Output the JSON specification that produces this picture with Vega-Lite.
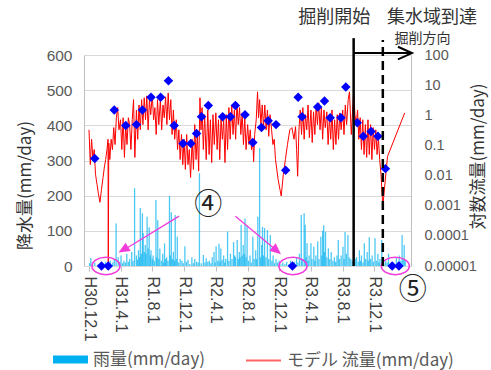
{
  "$schema": "https://vega.github.io/schema/vega-lite/v6.json",
  "width": 327,
  "height": 211,
  "autosize": {"type": "none"},
  "padding": {"left": 84, "top": 55, "right": 80, "bottom": 104},
  "background": "white",
  "config": {
    "font": "Noto Sans CJK JP",
    "view": {"stroke": null},
    "axis": {"titleFontWeight": "normal", "labelFont": "Liberation Sans"}
  },
  "datasets": {
    "rain": [
      {"date":"2018-12-03","mm":8},{"date":"2018-12-08","mm":23},{"date":"2018-12-15","mm":5},{"date":"2018-12-23","mm":10},
      {"date":"2019-01-05","mm":4},{"date":"2019-01-15","mm":8},{"date":"2019-01-26","mm":6},{"date":"2019-02-02","mm":12},
      {"date":"2019-02-10","mm":5},{"date":"2019-02-21","mm":15},{"date":"2019-03-02","mm":10},{"date":"2019-03-08","mm":20},
      {"date":"2019-03-15","mm":121},{"date":"2019-03-23","mm":25},{"date":"2019-03-29","mm":12},{"date":"2019-04-03","mm":30},
      {"date":"2019-04-09","mm":8},{"date":"2019-04-14","mm":15},{"date":"2019-04-20","mm":10},{"date":"2019-04-25","mm":35},
      {"date":"2019-05-01","mm":12},{"date":"2019-05-06","mm":20},{"date":"2019-05-14","mm":40},{"date":"2019-05-19","mm":15},
      {"date":"2019-05-25","mm":221},{"date":"2019-06-01","mm":30},{"date":"2019-06-05","mm":18},{"date":"2019-06-09","mm":45},
      {"date":"2019-06-13","mm":25},{"date":"2019-06-16","mm":165},{"date":"2019-06-20","mm":35},{"date":"2019-06-24","mm":150},
      {"date":"2019-06-27","mm":94},{"date":"2019-07-01","mm":40},{"date":"2019-07-05","mm":60},{"date":"2019-07-08","mm":35},
      {"date":"2019-07-12","mm":140},{"date":"2019-07-16","mm":50},{"date":"2019-07-20","mm":110},{"date":"2019-07-24","mm":30},
      {"date":"2019-07-27","mm":45},{"date":"2019-08-01","mm":20},{"date":"2019-08-04","mm":30},{"date":"2019-08-09","mm":15},
      {"date":"2019-08-15","mm":188},{"date":"2019-08-18","mm":25},{"date":"2019-08-22","mm":130},{"date":"2019-08-26","mm":20},
      {"date":"2019-08-30","mm":50},{"date":"2019-09-05","mm":15},{"date":"2019-09-10","mm":35},{"date":"2019-09-14","mm":10},
      {"date":"2019-09-17","mm":64},{"date":"2019-09-21","mm":20},{"date":"2019-09-25","mm":25},{"date":"2019-09-30","mm":15},
      {"date":"2019-10-06","mm":199},{"date":"2019-10-09","mm":30},{"date":"2019-10-13","mm":153},{"date":"2019-10-17","mm":20},
      {"date":"2019-10-21","mm":40},{"date":"2019-10-25","mm":15},{"date":"2019-10-28","mm":145},{"date":"2019-11-01","mm":20},
      {"date":"2019-11-05","mm":83},{"date":"2019-11-10","mm":10},{"date":"2019-11-16","mm":20},{"date":"2019-11-23","mm":15},
      {"date":"2019-11-28","mm":8},{"date":"2019-12-04","mm":56},{"date":"2019-12-10","mm":12},{"date":"2019-12-16","mm":18},
      {"date":"2019-12-23","mm":6},{"date":"2019-12-31","mm":25},{"date":"2020-01-06","mm":8},{"date":"2020-01-11","mm":20},
      {"date":"2020-01-18","mm":12},{"date":"2020-01-24","mm":10},{"date":"2020-01-29","mm":264},{"date":"2020-02-05","mm":8},
      {"date":"2020-02-13","mm":31},{"date":"2020-02-19","mm":10},{"date":"2020-02-24","mm":22},{"date":"2020-03-01","mm":12},
      {"date":"2020-03-07","mm":15},{"date":"2020-03-13","mm":8},{"date":"2020-03-18","mm":25},{"date":"2020-03-25","mm":40},
      {"date":"2020-03-29","mm":10},{"date":"2020-04-02","mm":56},{"date":"2020-04-08","mm":15},{"date":"2020-04-13","mm":63},
      {"date":"2020-04-17","mm":12},{"date":"2020-04-20","mm":50},{"date":"2020-04-25","mm":18},{"date":"2020-05-01","mm":30},
      {"date":"2020-05-05","mm":10},{"date":"2020-05-09","mm":20},{"date":"2020-05-16","mm":98},{"date":"2020-05-21","mm":15},
      {"date":"2020-05-27","mm":35},{"date":"2020-06-02","mm":20},{"date":"2020-06-08","mm":68},{"date":"2020-06-12","mm":30},
      {"date":"2020-06-15","mm":25},{"date":"2020-06-22","mm":74},{"date":"2020-06-26","mm":20},{"date":"2020-06-30","mm":40},
      {"date":"2020-07-03","mm":25},{"date":"2020-07-07","mm":117},{"date":"2020-07-11","mm":30},{"date":"2020-07-15","mm":60},
      {"date":"2020-07-19","mm":35},{"date":"2020-07-22","mm":135},{"date":"2020-07-26","mm":25},{"date":"2020-07-30","mm":115},
      {"date":"2020-08-04","mm":15},{"date":"2020-08-10","mm":30},{"date":"2020-08-15","mm":10},{"date":"2020-08-21","mm":83},
      {"date":"2020-08-26","mm":20},{"date":"2020-09-01","mm":45},{"date":"2020-09-05","mm":20},{"date":"2020-09-09","mm":140},
      {"date":"2020-09-16","mm":335},{"date":"2020-09-20","mm":25},{"date":"2020-09-24","mm":60},{"date":"2020-09-27","mm":111},
      {"date":"2020-10-01","mm":30},{"date":"2020-10-05","mm":108},{"date":"2020-10-10","mm":25},{"date":"2020-10-16","mm":102},
      {"date":"2020-10-21","mm":20},{"date":"2020-10-27","mm":88},{"date":"2020-11-02","mm":15},{"date":"2020-11-07","mm":30},
      {"date":"2020-11-12","mm":8},{"date":"2020-11-18","mm":20},{"date":"2020-11-24","mm":10},{"date":"2020-11-30","mm":15},
      {"date":"2020-12-07","mm":5},{"date":"2020-12-14","mm":10},{"date":"2020-12-22","mm":6},{"date":"2020-12-29","mm":12},
      {"date":"2021-01-06","mm":5},{"date":"2021-01-13","mm":15},{"date":"2021-01-20","mm":8},{"date":"2021-01-28","mm":12},
      {"date":"2021-02-05","mm":25},{"date":"2021-02-10","mm":10},{"date":"2021-02-16","mm":35},{"date":"2021-02-23","mm":145},
      {"date":"2021-02-27","mm":20},{"date":"2021-03-06","mm":150},{"date":"2021-03-10","mm":117},{"date":"2021-03-14","mm":25},
      {"date":"2021-03-17","mm":65},{"date":"2021-03-21","mm":15},{"date":"2021-03-25","mm":30},{"date":"2021-04-01","mm":65},
      {"date":"2021-04-05","mm":20},{"date":"2021-04-12","mm":55},{"date":"2021-04-16","mm":15},{"date":"2021-04-20","mm":30},
      {"date":"2021-04-27","mm":70},{"date":"2021-05-02","mm":20},{"date":"2021-05-09","mm":83},{"date":"2021-05-13","mm":30},
      {"date":"2021-05-16","mm":100},{"date":"2021-05-20","mm":116},{"date":"2021-05-23","mm":40},{"date":"2021-05-27","mm":97},
      {"date":"2021-06-01","mm":25},{"date":"2021-06-07","mm":50},{"date":"2021-06-12","mm":20},{"date":"2021-06-18","mm":40},
      {"date":"2021-06-24","mm":15},{"date":"2021-06-30","mm":25},{"date":"2021-07-05","mm":12},{"date":"2021-07-10","mm":30},
      {"date":"2021-07-15","mm":74},{"date":"2021-07-20","mm":20},{"date":"2021-07-26","mm":30},{"date":"2021-08-02","mm":55},
      {"date":"2021-08-06","mm":20},{"date":"2021-08-10","mm":97},{"date":"2021-08-15","mm":35},{"date":"2021-08-21","mm":88},
      {"date":"2021-08-26","mm":25},{"date":"2021-09-01","mm":20},{"date":"2021-09-07","mm":15},{"date":"2021-09-12","mm":366},
      {"date":"2021-09-18","mm":20},{"date":"2021-09-23","mm":25},{"date":"2021-09-29","mm":12},{"date":"2021-10-04","mm":45},
      {"date":"2021-10-08","mm":15},{"date":"2021-10-12","mm":30},{"date":"2021-10-18","mm":10},{"date":"2021-10-23","mm":65},
      {"date":"2021-10-28","mm":20},{"date":"2021-11-03","mm":40},{"date":"2021-11-07","mm":15},{"date":"2021-11-11","mm":82},
      {"date":"2021-11-16","mm":20},{"date":"2021-11-22","mm":30},{"date":"2021-11-27","mm":12},{"date":"2021-12-03","mm":79},
      {"date":"2021-12-08","mm":15},{"date":"2021-12-14","mm":35},{"date":"2021-12-18","mm":10},{"date":"2021-12-22","mm":20},
      {"date":"2021-12-29","mm":75},{"date":"2022-01-06","mm":8},{"date":"2022-01-13","mm":15},{"date":"2022-01-19","mm":10},
      {"date":"2022-01-24","mm":35},{"date":"2022-01-31","mm":6},{"date":"2022-02-08","mm":10},{"date":"2022-02-15","mm":5},
      {"date":"2022-02-23","mm":25},{"date":"2022-03-01","mm":12},{"date":"2022-03-06","mm":30},{"date":"2022-03-12","mm":15},
      {"date":"2022-03-17","mm":88},{"date":"2022-03-21","mm":20},{"date":"2022-03-25","mm":60},{"date":"2022-03-29","mm":15}
    ],
    "flow": [
      {"date":"2018-12-01","flow":0.33},{"date":"2018-12-06","flow":0.023},{"date":"2018-12-11","flow":0.16},{"date":"2018-12-16","flow":0.034},
      {"date":"2018-12-21","flow":0.073},{"date":"2018-12-26","flow":0.011},{"date":"2019-01-01","flow":0.005},{"date":"2019-01-06","flow":0.0025},
      {"date":"2019-01-12","flow":0.0013},{"date":"2019-01-18","flow":0.0035},{"date":"2019-01-24","flow":0.0087},{"date":"2019-01-29","flow":0.019},
      {"date":"2019-02-03","flow":0.034},{"date":"2019-02-08","flow":0.073},{"date":"2019-02-12","flow":0.16},{"date":"2019-02-13","flow":0.00001},
      {"date":"2019-02-15","flow":0.12},{"date":"2019-02-19","flow":0.034},{"date":"2019-02-24","flow":0.16},
      {"date":"2019-03-01","flow":0.073},{"date":"2019-03-06","flow":0.39},{"date":"2019-03-11","flow":0.107},{"date":"2019-03-16","flow":0.83},
      {"date":"2019-03-21","flow":1.8},{"date":"2019-03-26","flow":0.33},
      {"date":"2019-04-01","flow":0.71},{"date":"2019-04-06","flow":0.073},{"date":"2019-04-11","flow":0.83},{"date":"2019-04-16","flow":0.04},
      {"date":"2019-04-21","flow":0.49},{"date":"2019-04-26","flow":0.107},
      {"date":"2019-05-01","flow":0.83},{"date":"2019-05-06","flow":0.49},{"date":"2019-05-11","flow":0.073},{"date":"2019-05-16","flow":0.71},
      {"date":"2019-05-21","flow":3.3},{"date":"2019-05-26","flow":0.04},
      {"date":"2019-06-01","flow":1.5},{"date":"2019-06-06","flow":0.16},{"date":"2019-06-11","flow":2.2},{"date":"2019-06-16","flow":0.33},
      {"date":"2019-06-21","flow":3.3},{"date":"2019-06-26","flow":0.49},
      {"date":"2019-07-01","flow":3.8},{"date":"2019-07-06","flow":0.71},{"date":"2019-07-11","flow":4.4},{"date":"2019-07-16","flow":0.33},
      {"date":"2019-07-21","flow":3.3},{"date":"2019-07-26","flow":1.05},
      {"date":"2019-08-01","flow":4.8},{"date":"2019-08-06","flow":0.71},{"date":"2019-08-11","flow":1.8},{"date":"2019-08-16","flow":0.23},
      {"date":"2019-08-21","flow":3.3},{"date":"2019-08-26","flow":0.49},
      {"date":"2019-09-01","flow":3.3},{"date":"2019-09-06","flow":0.33},{"date":"2019-09-11","flow":2.2},{"date":"2019-09-16","flow":0.83},
      {"date":"2019-09-21","flow":4.1},{"date":"2019-09-26","flow":0.49},
      {"date":"2019-10-01","flow":5.5},{"date":"2019-10-06","flow":0.71},{"date":"2019-10-11","flow":3.3},{"date":"2019-10-16","flow":0.23},
      {"date":"2019-10-21","flow":1.5},{"date":"2019-10-26","flow":0.16},
      {"date":"2019-11-01","flow":0.71},{"date":"2019-11-06","flow":0.073},{"date":"2019-11-11","flow":0.33},{"date":"2019-11-16","flow":0.034},
      {"date":"2019-11-21","flow":0.23},{"date":"2019-11-26","flow":0.023},
      {"date":"2019-12-01","flow":0.16},{"date":"2019-12-06","flow":0.016},{"date":"2019-12-11","flow":0.23},{"date":"2019-12-16","flow":0.023},
      {"date":"2019-12-21","flow":0.073},{"date":"2019-12-26","flow":0.0087},
      {"date":"2020-01-01","flow":0.16},{"date":"2020-01-06","flow":0.016},{"date":"2020-01-11","flow":0.49},{"date":"2020-01-16","flow":0.034},
      {"date":"2020-01-21","flow":0.23},{"date":"2020-01-26","flow":0.014},{"date":"2020-01-31","flow":3.8},
      {"date":"2020-02-04","flow":0.33},{"date":"2020-02-08","flow":1.8},{"date":"2020-02-13","flow":0.073},{"date":"2020-02-18","flow":1.05},
      {"date":"2020-02-24","flow":0.034},
      {"date":"2020-03-01","flow":1.5},{"date":"2020-03-06","flow":0.05},{"date":"2020-03-11","flow":0.71},{"date":"2020-03-16","flow":0.027},
      {"date":"2020-03-21","flow":1.05},{"date":"2020-03-26","flow":0.107},
      {"date":"2020-04-01","flow":1.2},{"date":"2020-04-06","flow":0.073},{"date":"2020-04-11","flow":0.71},{"date":"2020-04-16","flow":0.034},
      {"date":"2020-04-21","flow":0.83},{"date":"2020-04-26","flow":0.16},
      {"date":"2020-05-01","flow":0.71},{"date":"2020-05-06","flow":0.027},{"date":"2020-05-11","flow":1.05},{"date":"2020-05-16","flow":0.073},
      {"date":"2020-05-21","flow":1.8},{"date":"2020-05-26","flow":0.16},
      {"date":"2020-06-01","flow":2.2},{"date":"2020-06-06","flow":0.23},{"date":"2020-06-11","flow":1.5},{"date":"2020-06-16","flow":0.16},
      {"date":"2020-06-21","flow":2.6},{"date":"2020-06-26","flow":0.49},
      {"date":"2020-07-01","flow":1.8},{"date":"2020-07-06","flow":0.23},{"date":"2020-07-11","flow":1.2},{"date":"2020-07-16","flow":0.107},
      {"date":"2020-07-21","flow":0.83},{"date":"2020-07-26","flow":0.073},
      {"date":"2020-08-01","flow":0.49},{"date":"2020-08-06","flow":0.107},{"date":"2020-08-11","flow":0.33},{"date":"2020-08-16","flow":0.073},
      {"date":"2020-08-21","flow":0.16},{"date":"2020-08-24","flow":0.029},{"date":"2020-08-28","flow":0.23},
      {"date":"2020-09-03","flow":0.71},{"date":"2020-09-08","flow":6.0},{"date":"2020-09-12","flow":0.83},{"date":"2020-09-16","flow":3.3},
      {"date":"2020-09-21","flow":0.49},{"date":"2020-09-26","flow":2.2},
      {"date":"2020-10-01","flow":0.39},{"date":"2020-10-06","flow":2.2},{"date":"2020-10-11","flow":0.33},{"date":"2020-10-16","flow":1.5},
      {"date":"2020-10-21","flow":0.2},{"date":"2020-10-26","flow":1.05},
      {"date":"2020-11-01","flow":0.33},{"date":"2020-11-06","flow":0.107},{"date":"2020-11-11","flow":0.16},{"date":"2020-11-16","flow":0.034},
      {"date":"2020-11-21","flow":0.016},{"date":"2020-11-26","flow":0.0075},
      {"date":"2020-12-03","flow":0.0035},{"date":"2020-12-08","flow":0.0021},{"date":"2020-12-16","flow":0.011},{"date":"2020-12-24","flow":0.034},
      {"date":"2021-01-01","flow":0.107},{"date":"2021-01-10","flow":0.33},{"date":"2021-01-18","flow":0.39},{"date":"2021-01-26","flow":0.16},
      {"date":"2021-02-01","flow":0.42},{"date":"2021-02-05","flow":0.073},{"date":"2021-02-09","flow":0.0095},{"date":"2021-02-14","flow":0.33},
      {"date":"2021-02-19","flow":1.5},{"date":"2021-02-24","flow":0.23},
      {"date":"2021-03-01","flow":1.8},{"date":"2021-03-06","flow":0.16},{"date":"2021-03-11","flow":1.05},{"date":"2021-03-16","flow":0.33},
      {"date":"2021-03-21","flow":2.2},{"date":"2021-03-26","flow":0.18},
      {"date":"2021-04-01","flow":1.5},{"date":"2021-04-06","flow":0.125},{"date":"2021-04-11","flow":1.3},{"date":"2021-04-16","flow":0.23},
      {"date":"2021-04-21","flow":2.2},{"date":"2021-04-26","flow":0.49},
      {"date":"2021-05-01","flow":2.6},{"date":"2021-05-06","flow":0.33},{"date":"2021-05-11","flow":1.8},{"date":"2021-05-16","flow":0.16},
      {"date":"2021-05-21","flow":1.5},{"date":"2021-05-26","flow":0.39},
      {"date":"2021-06-01","flow":1.3},{"date":"2021-06-06","flow":0.107},{"date":"2021-06-11","flow":0.83},{"date":"2021-06-16","flow":0.16},
      {"date":"2021-06-21","flow":1.5},{"date":"2021-06-26","flow":0.073},
      {"date":"2021-07-01","flow":0.71},{"date":"2021-07-06","flow":0.107},{"date":"2021-07-11","flow":1.05},{"date":"2021-07-16","flow":0.16},
      {"date":"2021-07-21","flow":1.2},{"date":"2021-07-26","flow":0.33},
      {"date":"2021-08-01","flow":1.5},{"date":"2021-08-06","flow":0.23},{"date":"2021-08-11","flow":2.2},{"date":"2021-08-16","flow":0.49},
      {"date":"2021-08-22","flow":3.3},{"date":"2021-08-27","flow":6.0},
      {"date":"2021-09-03","flow":0.23},{"date":"2021-09-08","flow":1.5},{"date":"2021-09-12","flow":6.0},{"date":"2021-09-17","flow":1.05},
      {"date":"2021-09-22","flow":0.49},{"date":"2021-09-27","flow":1.5},
      {"date":"2021-10-02","flow":0.16},{"date":"2021-10-07","flow":0.83},{"date":"2021-10-12","flow":0.073},{"date":"2021-10-17","flow":0.71},
      {"date":"2021-10-22","flow":0.05},{"date":"2021-10-27","flow":0.49},
      {"date":"2021-11-01","flow":0.04},{"date":"2021-11-06","flow":0.71},{"date":"2021-11-11","flow":0.05},{"date":"2021-11-16","flow":0.49},
      {"date":"2021-11-21","flow":0.034},{"date":"2021-11-26","flow":0.39},
      {"date":"2021-12-01","flow":0.073},{"date":"2021-12-06","flow":0.33},{"date":"2021-12-11","flow":0.05},{"date":"2021-12-16","flow":0.18},
      {"date":"2021-12-21","flow":0.034},{"date":"2021-12-26","flow":0.011},
      {"date":"2022-01-02","flow":0.00096},{"date":"2022-01-20","flow":0.043},{"date":"2022-03-27","flow":1.2}
    ],
    "obs": [
      {"date":"2018-12-23","obs":0.037},{"date":"2019-01-18","obs":0.00001},{"date":"2019-02-13","obs":0.00001},
      {"date":"2019-03-08","obs":1.5},{"date":"2019-04-21","obs":0.46},{"date":"2019-06-01","obs":0.49},
      {"date":"2019-06-24","obs":1.5},{"date":"2019-07-27","obs":4.0},{"date":"2019-09-02","obs":4.0},
      {"date":"2019-10-02","obs":13.9},{"date":"2019-10-24","obs":0.46},{"date":"2019-11-27","obs":0.115},
      {"date":"2019-12-27","obs":0.115},{"date":"2020-01-18","obs":0.25},{"date":"2020-02-06","obs":0.9},
      {"date":"2020-03-03","obs":2.1},{"date":"2020-04-27","obs":0.9},{"date":"2020-05-27","obs":0.9},
      {"date":"2020-06-15","obs":2.1},{"date":"2020-07-22","obs":1.05},{"date":"2020-08-21","obs":0.126},
      {"date":"2020-09-23","obs":0.39},{"date":"2020-10-19","obs":0.66},{"date":"2020-11-18","obs":0.49},
      {"date":"2020-12-25","obs":0.015},{"date":"2021-01-20","obs":0.00001},{"date":"2021-02-11","obs":4.0},
      {"date":"2021-02-26","obs":0.9},{"date":"2021-04-27","obs":1.9},{"date":"2021-05-23","obs":3.0},
      {"date":"2021-06-14","obs":0.83},{"date":"2021-07-25","obs":0.83},{"date":"2021-08-13","obs":8.7},
      {"date":"2021-09-26","obs":0.57},{"date":"2021-10-19","obs":0.2},{"date":"2021-11-18","obs":0.29},
      {"date":"2021-12-14","obs":0.2},{"date":"2022-01-12","obs":0.017},{"date":"2022-02-07","obs":0.00001},
      {"date":"2022-03-05","obs":0.00001}
    ]
  },
  "layer": [
    {
      "data": {"name": "rain"},
      "mark": {"type": "bar", "size": 1.3, "opacity": 0.7},
      "encoding": {
        "x": {
          "field": "date", "type": "temporal",
          "scale": {"domain": [{"year": 2018, "month": 12, "date": 1}, {"year": 2022, "month": 4, "date": 1}]},
          "axis": {
            "values": [
              {"year": 2018, "month": 12, "date": 1}, {"year": 2019, "month": 4, "date": 1},
              {"year": 2019, "month": 8, "date": 1}, {"year": 2019, "month": 12, "date": 1},
              {"year": 2020, "month": 4, "date": 1}, {"year": 2020, "month": 8, "date": 1},
              {"year": 2020, "month": 12, "date": 1}, {"year": 2021, "month": 4, "date": 1},
              {"year": 2021, "month": 8, "date": 1}, {"year": 2021, "month": 12, "date": 1}
            ],
            "tickCount": 40,
            "labelExpr": "((year(datum.value) < 2019 || (year(datum.value) == 2019 && month(datum.value) < 4)) ? 'H' + (year(datum.value) - 1988) : 'R' + (year(datum.value) - 2018)) + '.' + (month(datum.value) + 1) + '.' + date(datum.value)",
            "labelAngle": 90, "labelAlign": "left", "labelBaseline": "middle", "labelOverlap": false, "labelBound": false, "labelFlush": false,
            "labelFontSize": 16, "labelColor": "#404040", "labelPadding": 5,
            "ticks": true, "tickSize": 5, "tickColor": "#bfbfbf", "domain": true, "domainColor": "#d9d9d9",
            "grid": false, "title": null
          }
        },
        "y": {
          "field": "mm", "type": "quantitative",
          "scale": {"domain": [0, 600], "nice": false},
          "axis": {
            "values": [0, 100, 200, 300, 400, 500, 600],
            "tickCount": 20,
            "grid": true, "gridColor": "#d9d9d9", "ticks": false, "domainColor": "#bfbfbf",
            "labelFontSize": 15.5, "labelColor": "#595959", "labelPadding": 12,
            "title": "降水量(mm/day)", "titleFont": "Noto Sans CJK JP", "titleFontSize": 17, "titleColor": "#333333",
            "titleAngle": 270, "titleX": -59, "titleY": 130, "titleAlign": "center", "titleBaseline": "middle"
          }
        },
        "fill": {
          "datum": "雨量(mm/day)", "type": "nominal",
          "scale": {"domain": ["雨量(mm/day)"], "range": ["#00B0F0"]},
          "legend": {
            "orient": "none", "legendX": -31, "legendY": 287, "direction": "horizontal", "title": null,
            "labelFontSize": 17, "labelColor": "#595959", "labelLimit": 400, "labelOffset": 5,
            "symbolType": "M-1,-0.23H1V0.23H-1Z", "symbolSize": 1225, "symbolStrokeWidth": 0, "symbolOpacity": 1, "padding": 0
          }
        }
      }
    },
    {
      "layer": [
        {
          "data": {"name": "flow"},
          "mark": {"type": "line", "strokeWidth": 1},
          "encoding": {
            "x": {"field": "date", "type": "temporal", "scale": {"domain": [{"year": 2018, "month": 12, "date": 1}, {"year": 2022, "month": 4, "date": 1}]}},
            "y": {
              "field": "flow", "type": "quantitative",
              "scale": {"type": "log", "domain": [0.00001, 100], "nice": false},
              "axis": {
                "orient": "right",
                "values": [0.00001, 0.0001, 0.001, 0.01, 0.1, 1, 10, 100],
                "tickCount": 20,
                "format": ".5~f",
                "grid": false, "ticks": false, "domain": true, "domainColor": "#bfbfbf",
                "labelFontSize": 14.5, "labelColor": "#595959", "labelPadding": 13,
                "title": "対数流量(mm/day)", "titleFont": "Noto Sans CJK JP", "titleFontSize": 17, "titleColor": "#333333",
                "titleAngle": 270, "titleX": 67, "titleY": 101, "titleAlign": "center", "titleBaseline": "middle"
              }
            },
            "stroke": {
              "datum": "モデル 流量(mm/day)", "type": "nominal",
              "scale": {"domain": ["モデル 流量(mm/day)"], "range": ["#FF0000"]},
              "legend": {
                "orient": "none", "legendX": 161, "legendY": 287, "direction": "horizontal", "title": null,
                "labelFontSize": 17, "labelColor": "#595959", "labelLimit": 400, "labelOffset": 5,
                "symbolType": "stroke", "symbolSize": 1225, "symbolStrokeWidth": 2, "symbolOpacity": 0.6, "padding": 0
              }
            }
          }
        },
        {
          "data": {"name": "obs"},
          "mark": {"type": "point", "shape": "diamond", "filled": true, "color": "#0000FF", "size": 90, "opacity": 1},
          "encoding": {
            "x": {"field": "date", "type": "temporal", "scale": {"domain": [{"year": 2018, "month": 12, "date": 1}, {"year": 2022, "month": 4, "date": 1}]}},
            "y": {"field": "obs", "type": "quantitative", "scale": {"type": "log", "domain": [0.00001, 100], "nice": false}}
          }
        },
        {
          "data": {"values": [{"date": "2019-02-04", "v": 0.00001}, {"date": "2021-01-22", "v": 0.00001}, {"date": "2022-02-19", "v": 0.00001}]},
          "mark": {"type": "point", "shape": "M-1,0C-1,-0.342,-0.552,-0.62,0,-0.62C0.552,-0.62,1,-0.342,1,0C1,0.342,0.552,0.62,0,0.62C-0.552,0.62,-1,0.342,-1,0Z", "filled": false, "stroke": "#F23BDB", "strokeWidth": 1.6, "size": 784, "opacity": 1},
          "encoding": {
            "x": {"field": "date", "type": "temporal", "scale": {"domain": [{"year": 2018, "month": 12, "date": 1}, {"year": 2022, "month": 4, "date": 1}]}},
            "y": {"field": "v", "type": "quantitative", "scale": {"type": "log", "domain": [0.00001, 100], "nice": false}}
          }
        },
        {
          "data": {"values": [
            {"from": "2019-11-12", "to": "2019-04-18", "fv": 0.00045, "tv": 0.000036},
            {"from": "2020-06-15", "to": "2020-11-18", "fv": 0.00045, "tv": 0.000034}
          ]},
          "mark": {"type": "rule", "color": "#F23BDB", "strokeWidth": 1.3},
          "encoding": {
            "x": {"field": "from", "type": "temporal", "scale": {"domain": [{"year": 2018, "month": 12, "date": 1}, {"year": 2022, "month": 4, "date": 1}]}},
            "x2": {"field": "to"},
            "y": {"field": "fv", "type": "quantitative", "scale": {"type": "log", "domain": [0.00001, 100], "nice": false}},
            "y2": {"field": "tv"}
          }
        },
        {
          "data": {"values": [{"date": "2019-04-15", "v": 0.000036}]},
          "mark": {"type": "point", "shape": "M0,-1L0.75,0.7L-0.75,0.7Z", "filled": true, "color": "#F23BDB", "size": 170, "angle": 239, "opacity": 1},
          "encoding": {
            "x": {"field": "date", "type": "temporal", "scale": {"domain": [{"year": 2018, "month": 12, "date": 1}, {"year": 2022, "month": 4, "date": 1}]}},
            "y": {"field": "v", "type": "quantitative", "scale": {"type": "log", "domain": [0.00001, 100], "nice": false}}
          }
        },
        {
          "data": {"values": [{"date": "2020-11-18", "v": 0.000034}]},
          "mark": {"type": "point", "shape": "M0,-1L0.75,0.7L-0.75,0.7Z", "filled": true, "color": "#F23BDB", "size": 170, "angle": 130, "opacity": 1},
          "encoding": {
            "x": {"field": "date", "type": "temporal", "scale": {"domain": [{"year": 2018, "month": 12, "date": 1}, {"year": 2022, "month": 4, "date": 1}]}},
            "y": {"field": "v", "type": "quantitative", "scale": {"type": "log", "domain": [0.00001, 100], "nice": false}}
          }
        },
        {
          "data": {"values": [{"date": "2021-09-12", "lo": 0.00001, "hi": 363}]},
          "mark": {"type": "rule", "color": "#000000", "strokeWidth": 2.5},
          "encoding": {
            "x": {"field": "date", "type": "temporal", "scale": {"domain": [{"year": 2018, "month": 12, "date": 1}, {"year": 2022, "month": 4, "date": 1}]}},
            "y": {"field": "lo", "type": "quantitative", "scale": {"type": "log", "domain": [0.00001, 100], "nice": false}},
            "y2": {"field": "hi"}
          }
        },
        {
          "data": {"values": [{"date": "2022-01-02", "lo": 0.00001, "hi": 312}]},
          "mark": {"type": "rule", "color": "#000000", "strokeWidth": 2.5, "strokeDash": [9, 5]},
          "encoding": {
            "x": {"field": "date", "type": "temporal", "scale": {"domain": [{"year": 2018, "month": 12, "date": 1}, {"year": 2022, "month": 4, "date": 1}]}},
            "y": {"field": "lo", "type": "quantitative", "scale": {"type": "log", "domain": [0.00001, 100], "nice": false}},
            "y2": {"field": "hi"}
          }
        },
        {
          "data": {"values": [{"from": "2021-09-12", "to": "2022-04-20", "v": 116}]},
          "mark": {"type": "rule", "color": "#000000", "strokeWidth": 2},
          "encoding": {
            "x": {"field": "from", "type": "temporal", "scale": {"domain": [{"year": 2018, "month": 12, "date": 1}, {"year": 2022, "month": 4, "date": 1}]}},
            "x2": {"field": "to"},
            "y": {"field": "v", "type": "quantitative", "scale": {"type": "log", "domain": [0.00001, 100], "nice": false}}
          }
        },
        {
          "data": {"values": [{"date": "2022-03-28", "v": 116}]},
          "mark": {"type": "point", "shape": "M-1,-0.9L1,0L-1,0.9", "filled": false, "stroke": "#000000", "strokeWidth": 2, "size": 196, "opacity": 1},
          "encoding": {
            "x": {"field": "date", "type": "temporal", "scale": {"domain": [{"year": 2018, "month": 12, "date": 1}, {"year": 2022, "month": 4, "date": 1}]}},
            "y": {"field": "v", "type": "quantitative", "scale": {"type": "log", "domain": [0.00001, 100], "nice": false}}
          }
        },
        {
          "data": {"values": [{"date": "2021-06-30", "v": 1660, "label": "掘削開始"}, {"date": "2022-07-10", "v": 1660, "label": "集水域到達"}]},
          "mark": {"type": "text", "fontSize": 18, "color": "#333333", "align": "center", "baseline": "middle", "font": "Noto Sans CJK JP"},
          "encoding": {
            "x": {"field": "date", "type": "temporal", "scale": {"domain": [{"year": 2018, "month": 12, "date": 1}, {"year": 2022, "month": 4, "date": 1}]}},
            "y": {"field": "v", "type": "quantitative", "scale": {"type": "log", "domain": [0.00001, 100], "nice": false}},
            "text": {"field": "label"}
          }
        },
        {
          "data": {"values": [{"date": "2022-06-03", "v": 348, "label": "掘削方向"}]},
          "mark": {"type": "text", "fontSize": 14, "color": "#333333", "align": "center", "baseline": "middle", "font": "Noto Sans CJK JP"},
          "encoding": {
            "x": {"field": "date", "type": "temporal", "scale": {"domain": [{"year": 2018, "month": 12, "date": 1}, {"year": 2022, "month": 4, "date": 1}]}},
            "y": {"field": "v", "type": "quantitative", "scale": {"type": "log", "domain": [0.00001, 100], "nice": false}},
            "text": {"field": "label"}
          }
        },
        {
          "data": {"values": [{"date": "2020-03-03", "v": 0.00096, "label": "④"}, {"date": "2022-04-27", "v": 0.0000015, "label": "⑤"}]},
          "mark": {"type": "text", "fontSize": 28, "color": "#222222", "align": "center", "baseline": "middle", "font": "Noto Sans CJK JP"},
          "encoding": {
            "x": {"field": "date", "type": "temporal", "scale": {"domain": [{"year": 2018, "month": 12, "date": 1}, {"year": 2022, "month": 4, "date": 1}]}},
            "y": {"field": "v", "type": "quantitative", "scale": {"type": "log", "domain": [0.00001, 100], "nice": false}},
            "text": {"field": "label"}
          }
        }
      ]
    }
  ],
  "resolve": {"scale": {"y": "independent"}}
}
